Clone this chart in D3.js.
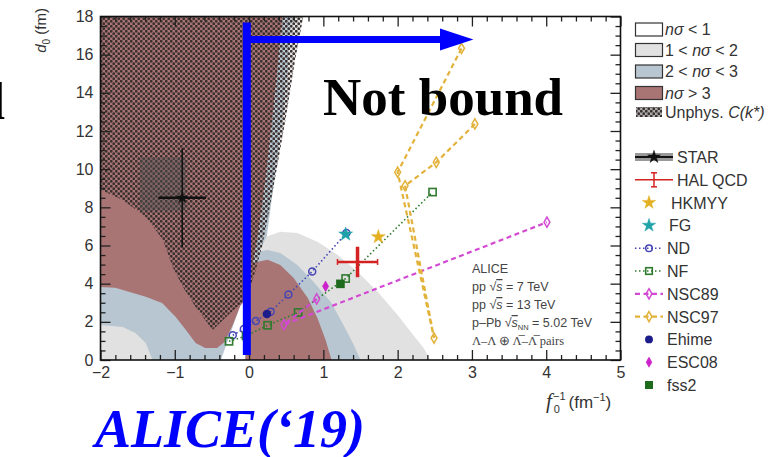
<!DOCTYPE html>
<html>
<head>
<meta charset="utf-8">
<script src="https://cdn.jsdelivr.net/npm/d3@7"></script>
<style>
body { margin: 0; background: #fff; }
</style>
</head>
<body>
<div id="chart"></div>
<script>
// axis ticks
const xTicks = [-2, -1, 0, 1, 2, 3, 4, 5];
const yTicks = [0, 2, 4, 6, 8, 10, 12, 14, 16, 18];

// model points: [1/f0 (fm^-1), d0 (fm)]
const ndPts = [[-0.22, 1.30], [-0.07, 1.63], [0.09, 2.04], [0.29, 2.53], [0.53, 3.43], [0.85, 4.64], [1.31, 6.65]];
const nfPts = [[-0.27, 0.98], [-0.04, 1.26], [0.25, 1.82], [0.66, 2.49], [1.30, 4.27], [2.47, 8.80]];
const nsc89Pts = [[0.91, 3.20], [0.47, 1.85], [4.01, 7.22]];
const nsc97Pts = [[3.04, 12.37], [2.52, 10.36], [2.10, 9.13], [2.49, 1.15], [2.00, 9.84], [2.86, 16.33]];
const ehimePts = [[0.24, 2.41]];
const esc08Pts = [[1.03, 3.86]];
const fss2Pts = [[1.23, 3.99]];
const hkmyyPts = [[1.74, 6.45]];
const fgPts = [[1.30, 6.59]];

// measurements: x, y, xerr, yerr
const halqcd = { x: 1.46, y: 5.14, ex: 0.27, ey: 0.80 };
const star = { x: -0.90, y: 8.50, ex: 0.32, ey: 2.60, sx0: -1.47, sx1: -0.85, sy0: 7.80, sy1: 10.60 };

// exclusion regions (level 1: 1<nσ<2, 2: 2<nσ<3, 3: nσ>3)
const regionLightRight = [[0.02, 6.30], [0.19, 6.40], [0.42, 6.72], [0.65, 6.66], [0.92, 6.19], [1.19, 5.51], [1.46, 4.62], [1.73, 3.57], [2.00, 2.36], [2.21, 1.31], [2.35, 0.63], [2.44, 0], [-0.05, 0]];
const regionBlueRight = [[0.02, 5.67], [0.11, 5.67], [0.25, 5.77], [0.42, 5.61], [0.65, 4.98], [0.87, 4.09], [1.10, 3.04], [1.27, 1.84], [1.41, 0.79], [1.50, 0], [-0.05, 0]];
const regionBrownRight = [[-0.02, 4.98], [0.11, 5.14], [0.25, 5.25], [0.42, 4.98], [0.60, 4.30], [0.79, 3.25], [0.92, 2.20], [1.03, 1.05], [1.11, 0], [-0.05, 0]];
const regionBlueLeft = [[-2, 4.2], [-2, 0], [-0.38, 0], [-0.09, 3.15], [-0.65, 4.2]];
const regionLightLeft = [[-2, 1.84], [-1.70, 1.73], [-1.53, 1.42], [-1.39, 0.89], [-1.30, 0], [-2, 0]];
const regionLightStrip = [[0.45, 18], [0.73, 18], [0.62, 15.74], [0.49, 12.59], [0.37, 9.97], [0.26, 7.61], [0.18, 6.03], [0.05, 4.98], [0.13, 6.82], [0.22, 9.44], [0.34, 13.64]];
const regionBlueStrip = [[0.45, 18], [0.58, 18], [0.48, 13.64], [0.34, 9.44], [0.24, 6.5], [0.05, 4.98], [0.13, 6.82], [0.22, 9.44], [0.34, 13.64]];
const regionBrownLeft = [[-2, 18], [0.45, 18], [0.34, 13.64], [0.22, 9.44], [0.13, 6.82], [0.05, 4.98], [-0.03, 3.25], [-0.12, 2.83], [-0.22, 1.84], [-0.33, 0.94], [-0.43, 0.63], [-0.59, 0.63], [-0.72, 0.89], [-0.85, 1.57], [-0.99, 2.26], [-1.17, 2.99], [-1.39, 3.31], [-1.62, 3.57], [-1.80, 3.78], [-2, 3.83]];
const regionUnphys = [[-2, 18], [0.73, 18], [0.62, 15.74], [0.49, 12.59], [0.37, 9.97], [0.26, 7.61], [0.18, 6.03], [0.09, 4.72], [-0.03, 3.25], [-0.28, 2.36], [-0.49, 1.57], [-0.72, 2.78], [-0.89, 3.83], [-1.03, 4.88], [-1.16, 6.30], [-1.39, 7.50], [-1.70, 8.39], [-2, 8.92]];

const bandLabels = ["nσ < 1", "1 < nσ < 2", "2 < nσ < 3", "nσ > 3", "Unphys. C(k*)"];
const modelLabels = ["STAR", "HAL QCD", "HKMYY", "FG", "ND", "NF", "NSC89", "NSC97", "Ehime", "ESC08", "fss2"];

const bandColor = { 0: "#ffffff", 1: "#e1e1e1", 2: "#b7c6d0", 3: "#a97474" };
const sans = "'Liberation Sans', Arial, Helvetica, sans-serif";
const serif = "'Liberation Serif', 'Times New Roman', serif";

const svg = d3.select("#chart").append("svg")
  .attr("width", 770)
  .attr("height", 457)
  .attr("font-family", sans);

const x = d3.scaleLinear().domain([-2, 5]).range([100.5, 620.5]);
const y = d3.scaleLinear().domain([0, 18]).range([360, 16.5]);

const defs = svg.append("defs");
defs.append("clipPath").attr("id", "plotclip")
  .append("rect").attr("x", x(-2)).attr("y", y(18)).attr("width", x(5) - x(-2)).attr("height", y(0) - y(18));
const pat = defs.append("pattern").attr("id", "unphys")
  .attr("patternUnits", "userSpaceOnUse").attr("width", 5).attr("height", 5);
pat.append("circle").attr("cx", 1.25).attr("cy", 1.25).attr("r", 1.4).attr("fill", "#3a3030");
pat.append("circle").attr("cx", 3.75).attr("cy", 3.75).attr("r", 1.4).attr("fill", "#3a3030");

const line = d3.line().x(d => x(d[0])).y(d => y(d[1]));

const plot = svg.append("g").attr("clip-path", "url(#plotclip)");

const regions = [
  { lvl: 1, pts: regionLightRight },
  { lvl: 2, pts: regionBlueRight },
  { lvl: 3, pts: regionBrownRight },
  { lvl: 2, pts: regionBlueLeft },
  { lvl: 1, pts: regionLightLeft },
  { lvl: 1, pts: regionLightStrip },
  { lvl: 2, pts: regionBlueStrip },
  { lvl: 3, pts: regionBrownLeft }
];
regions.forEach(function(r) {
  plot.append("path").attr("d", line(r.pts) + "Z").attr("fill", bandColor[r.lvl]);
});
plot.append("path").attr("d", line(regionUnphys) + "Z").attr("fill", "url(#unphys)");

// STAR systematic box
plot.append("rect")
  .attr("x", x(star.sx0)).attr("y", y(star.sy1))
  .attr("width", x(star.sx1) - x(star.sx0)).attr("height", y(star.sy0) - y(star.sy1))
  .attr("fill", "#505050").attr("opacity", 0.45);

function drawMarker(g, shape, cx, cy, color, open, size) {
  if (shape === "circle") {
    g.append("circle").attr("cx", cx).attr("cy", cy).attr("r", size)
      .attr("fill", open ? "none" : color).attr("stroke", color).attr("stroke-width", 1.5);
  } else if (shape === "square") {
    g.append("rect").attr("x", cx - size).attr("y", cy - size).attr("width", 2 * size).attr("height", 2 * size)
      .attr("fill", open ? "none" : color).attr("stroke", color).attr("stroke-width", 1.6);
  } else {
    const t = shape === "star" ? d3.symbolStar : d3.symbolDiamond;
    g.append("path").attr("d", d3.symbol(t, size)())
      .attr("transform", `translate(${cx},${cy})`)
      .attr("fill", open ? "none" : color).attr("stroke", color).attr("stroke-width", open ? 1.5 : 0.5);
  }
}

const models = [
  { pts: ndPts, color: "#4545b5", dash: "1.5,2.5", width: 1.6, shape: "circle", open: true, size: 3.5 },
  { pts: nfPts, color: "#2f7a2f", dash: "1.5,2.5", width: 1.6, shape: "square", open: true, size: 3.6 },
  { pts: nsc89Pts, color: "#d24ad2", dash: "5,3.5", width: 2.2, shape: "diamond", open: true, size: 30 },
  { pts: nsc97Pts, color: "#e2b23a", dash: "5,3.5", width: 2.2, shape: "diamond", open: true, size: 30 }
];
models.forEach(function(m) {
  plot.append("path").attr("d", line(m.pts)).attr("fill", "none")
    .attr("stroke", m.color).attr("stroke-width", m.width).attr("stroke-dasharray", m.dash);
  m.pts.forEach(function(p) { drawMarker(plot, m.shape, x(p[0]), y(p[1]), m.color, m.open, m.size); });
});
ehimePts.forEach(p => drawMarker(plot, "circle", x(p[0]), y(p[1]), "#1c1c8a", false, 3.5));
esc08Pts.forEach(p => drawMarker(plot, "diamond", x(p[0]), y(p[1]), "#cc22cc", false, 34));
fss2Pts.forEach(p => drawMarker(plot, "square", x(p[0]), y(p[1]), "#1e6b1e", false, 3.5));
hkmyyPts.forEach(p => drawMarker(plot, "star", x(p[0]), y(p[1]), "#e3b021", false, 60));
fgPts.forEach(p => drawMarker(plot, "star", x(p[0]), y(p[1]), "#1fa3a8", false, 60));

// HAL QCD
const hal = plot.append("g").attr("stroke", "#d42222");
hal.append("line").attr("x1", x(halqcd.x - halqcd.ex)).attr("x2", x(halqcd.x + halqcd.ex))
  .attr("y1", y(halqcd.y)).attr("y2", y(halqcd.y)).attr("stroke-width", 2.5);
hal.append("line").attr("x1", x(halqcd.x)).attr("x2", x(halqcd.x))
  .attr("y1", y(halqcd.y - halqcd.ey)).attr("y2", y(halqcd.y + halqcd.ey)).attr("stroke-width", 3.5);
[halqcd.x - halqcd.ex, halqcd.x + halqcd.ex].forEach(function(v) {
  hal.append("line").attr("x1", x(v)).attr("x2", x(v))
    .attr("y1", y(halqcd.y) - 3).attr("y2", y(halqcd.y) + 3).attr("stroke-width", 1.5);
});

// STAR
const st = plot.append("g").attr("stroke", "#111");
st.append("line").attr("x1", x(star.x - star.ex)).attr("x2", x(star.x + star.ex))
  .attr("y1", y(star.y)).attr("y2", y(star.y)).attr("stroke-width", 2.5);
st.append("line").attr("x1", x(star.x)).attr("x2", x(star.x))
  .attr("y1", y(star.y - star.ey)).attr("y2", y(star.y + star.ey)).attr("stroke-width", 1.5);
drawMarker(plot, "star", x(star.x), y(star.y), "#111", false, 40);

// axes
const minorX = d3.range(-2, 5.001, 0.2).filter(v => Math.abs(v - Math.round(v)) > 0.01);
const minorY = d3.range(0, 18.001, 0.5).filter(v => Math.abs(v / 2 - Math.round(v / 2)) > 0.01);

function styleAxis(g) {
  g.select(".domain").remove();
  g.selectAll(".tick line").attr("stroke", "#222").attr("stroke-width", 1.3);
  g.selectAll(".tick text").attr("fill", "#333").attr("font-size", 16).attr("font-family", sans);
}
svg.append("g").attr("transform", `translate(0,${y(0)})`)
  .call(d3.axisBottom(x).tickValues(xTicks).tickSize(-10).tickPadding(7).tickFormat(d3.format("d"))).call(styleAxis);
svg.append("g").attr("transform", `translate(0,${y(0)})`)
  .call(d3.axisBottom(x).tickValues(minorX).tickSize(-5).tickFormat("")).call(styleAxis);
svg.append("g").attr("transform", `translate(0,${y(18)})`)
  .call(d3.axisTop(x).tickValues(xTicks).tickSize(-10).tickFormat("")).call(styleAxis);
svg.append("g").attr("transform", `translate(0,${y(18)})`)
  .call(d3.axisTop(x).tickValues(minorX).tickSize(-5).tickFormat("")).call(styleAxis);
svg.append("g").attr("transform", `translate(${x(-2)},0)`)
  .call(d3.axisLeft(y).tickValues(yTicks).tickSize(-10).tickPadding(7).tickFormat(d3.format("d"))).call(styleAxis);
svg.append("g").attr("transform", `translate(${x(-2)},0)`)
  .call(d3.axisLeft(y).tickValues(minorY).tickSize(-5).tickFormat("")).call(styleAxis);
svg.append("g").attr("transform", `translate(${x(5)},0)`)
  .call(d3.axisRight(y).tickValues(yTicks).tickSize(-10).tickFormat("")).call(styleAxis);
svg.append("g").attr("transform", `translate(${x(5)},0)`)
  .call(d3.axisRight(y).tickValues(minorY).tickSize(-5).tickFormat("")).call(styleAxis);

svg.append("rect").attr("x", x(-2)).attr("y", y(18)).attr("width", x(5) - x(-2)).attr("height", y(0) - y(18))
  .attr("fill", "none").attr("stroke", "#111").attr("stroke-width", 1.6);

// axis titles
const yt = svg.append("text").attr("transform", "translate(46,8) rotate(-90)")
  .attr("text-anchor", "end").attr("fill", "#333").attr("font-size", 15);
yt.append("tspan").attr("font-style", "italic").text("d");
yt.append("tspan").attr("font-size", 10).attr("dy", 4).text("0");
yt.append("tspan").attr("dy", -4).text(" (fm)");

const xt = svg.append("text").attr("x", 546).attr("y", 408).attr("fill", "#333").attr("font-size", 17);
xt.append("tspan").attr("font-style", "italic").attr("font-family", serif).attr("font-size", 21).text("f");
xt.append("tspan").attr("font-size", 11).attr("dy", 5).attr("dx", 2).text("0");
xt.append("tspan").attr("font-size", 11).attr("dy", -13).attr("dx", -7).text("−1");
xt.append("tspan").attr("dy", 8).attr("dx", 3).text("(fm");
xt.append("tspan").attr("font-size", 11).attr("dy", -7).text("−1");
xt.append("tspan").attr("dy", 7).text(")");

// ALICE label
const info = svg.append("g").attr("fill", "#444").attr("font-size", 12.5);
info.append("text").attr("x", 472).attr("y", 273).text("ALICE");
const l1 = info.append("text").attr("x", 472).attr("y", 291);
l1.append("tspan").text("pp √");
l1.append("tspan").attr("text-decoration", "overline").attr("font-style", "italic").text("s");
l1.append("tspan").text(" = 7 TeV");
const l2 = info.append("text").attr("x", 472).attr("y", 309);
l2.append("tspan").text("pp √");
l2.append("tspan").attr("text-decoration", "overline").attr("font-style", "italic").text("s");
l2.append("tspan").text(" = 13 TeV");
const l3 = info.append("text").attr("x", 472).attr("y", 327);
l3.append("tspan").text("p–Pb √");
l3.append("tspan").attr("text-decoration", "overline").attr("font-style", "italic").text("s");
l3.append("tspan").attr("font-size", 7.5).attr("dy", 3).text("NN");
l3.append("tspan").attr("dy", -3).text(" = 5.02 TeV");
info.append("text").attr("x", 472).attr("y", 345)
  .attr("font-family", serif).text("Λ–Λ ⊕ Λ\u0305–Λ\u0305 pairs");

// blue annotation
const blue = "#0000ff";
svg.append("line").attr("x1", x(-0.03)).attr("x2", x(-0.03)).attr("y1", y(17.68)).attr("y2", y(0.26))
  .attr("stroke", blue).attr("stroke-width", 8);
svg.append("line").attr("x1", x(-0.03)).attr("x2", x(2.6)).attr("y1", y(16.8)).attr("y2", y(16.8))
  .attr("stroke", blue).attr("stroke-width", 7);
svg.append("path")
  .attr("d", `M${x(2.57)},${y(16.8) - 11}L${x(3.02)},${y(16.8)}L${x(2.57)},${y(16.8) + 11}Z`)
  .attr("fill", blue);

svg.append("text").attr("x", 323).attr("y", 115)
  .attr("font-family", serif).attr("font-weight", "bold")
  .attr("font-size", 53).attr("fill", "#000").text("Not bound");
svg.append("text").attr("x", 5).attr("y", 119).attr("text-anchor", "end")
  .attr("font-family", serif).attr("font-weight", "bold")
  .attr("font-size", 52).attr("fill", "#000").text("Bound");
svg.append("text").attr("x", 95).attr("y", 447)
  .attr("font-family", serif).attr("font-weight", "bold")
  .attr("font-style", "italic").attr("font-size", 54).attr("fill", blue).text("ALICE(‘19)");

// legend
const lg = svg.append("g").attr("font-size", 16).attr("fill", "#333");
const boxY = [29.5, 50, 71.5, 93];
bandLabels.forEach(function(lab, i) {
  const cy = i < 4 ? boxY[i] : 112;
  if (i < 4) {
    lg.append("rect").attr("x", 635.5).attr("y", cy - 6.5).attr("width", 27).attr("height", 13)
      .attr("fill", bandColor[i]).attr("stroke", "#333").attr("stroke-width", 1.2);
  } else {
    lg.append("rect").attr("x", 636).attr("y", cy - 5).attr("width", 26).attr("height", 10).attr("fill", "#aaa");
    lg.append("rect").attr("x", 636).attr("y", cy - 5).attr("width", 26).attr("height", 10).attr("fill", "url(#unphys)");
  }
  const t = lg.append("text").attr("x", 665).attr("y", cy + 5.5);
  if (i === 0) { t.append("tspan").attr("font-style", "italic").text("nσ"); t.append("tspan").text(" < 1"); }
  else if (i === 1) { t.append("tspan").text("1 < "); t.append("tspan").attr("font-style", "italic").text("nσ"); t.append("tspan").text(" < 2"); }
  else if (i === 2) { t.append("tspan").text("2 < "); t.append("tspan").attr("font-style", "italic").text("nσ"); t.append("tspan").text(" < 3"); }
  else if (i === 3) { t.append("tspan").attr("font-style", "italic").text("nσ"); t.append("tspan").text(" > 3"); }
  else { t.append("tspan").text("Unphys. "); t.append("tspan").attr("font-style", "italic").text("C(k*)"); }
});

const rowY = modelLabels.map((d, i) => 157 + i * 22.8);
const labelX = [677, 677, 671, 669, 667, 667, 667, 667, 667, 667, 667];
modelLabels.forEach(function(lab, i) {
  lg.append("text").attr("x", labelX[i]).attr("y", rowY[i] + 6).text(lab);
});
const lx = 649;
// STAR
lg.append("rect").attr("x", 635).attr("y", rowY[0] - 4).attr("width", 38).attr("height", 8).attr("fill", "#999");
lg.append("line").attr("x1", 635).attr("x2", 673).attr("y1", rowY[0]).attr("y2", rowY[0]).attr("stroke", "#111").attr("stroke-width", 2);
drawMarker(lg, "star", 654, rowY[0], "#111", false, 50);
// HAL QCD
lg.append("line").attr("x1", 635).attr("x2", 673).attr("y1", rowY[1]).attr("y2", rowY[1]).attr("stroke", "#d42222").attr("stroke-width", 1.5);
lg.append("line").attr("x1", 654).attr("x2", 654).attr("y1", rowY[1] - 7).attr("y2", rowY[1] + 7).attr("stroke", "#d42222").attr("stroke-width", 1.5);
[-7, 7].forEach(dy => lg.append("line").attr("x1", 651).attr("x2", 657).attr("y1", rowY[1] + dy).attr("y2", rowY[1] + dy).attr("stroke", "#d42222").attr("stroke-width", 1.5));
drawMarker(lg, "star", lx, rowY[2], "#e3b021", false, 55);
drawMarker(lg, "star", lx, rowY[3], "#1fa3a8", false, 55);
models.forEach(function(m, k) {
  const cy = rowY[4 + k];
  lg.append("line").attr("x1", 635).attr("x2", 663).attr("y1", cy).attr("y2", cy)
    .attr("stroke", m.color).attr("stroke-width", m.width).attr("stroke-dasharray", m.dash);
  drawMarker(lg, m.shape, lx, cy, m.color, m.open, m.shape === "diamond" ? 30 : 3.3);
});
drawMarker(lg, "circle", lx, rowY[8], "#1c1c8a", false, 3.2);
drawMarker(lg, "diamond", lx, rowY[9], "#cc22cc", false, 30);
drawMarker(lg, "square", lx, rowY[10], "#1e6b1e", false, 3.2);
</script>
</body>
</html>
